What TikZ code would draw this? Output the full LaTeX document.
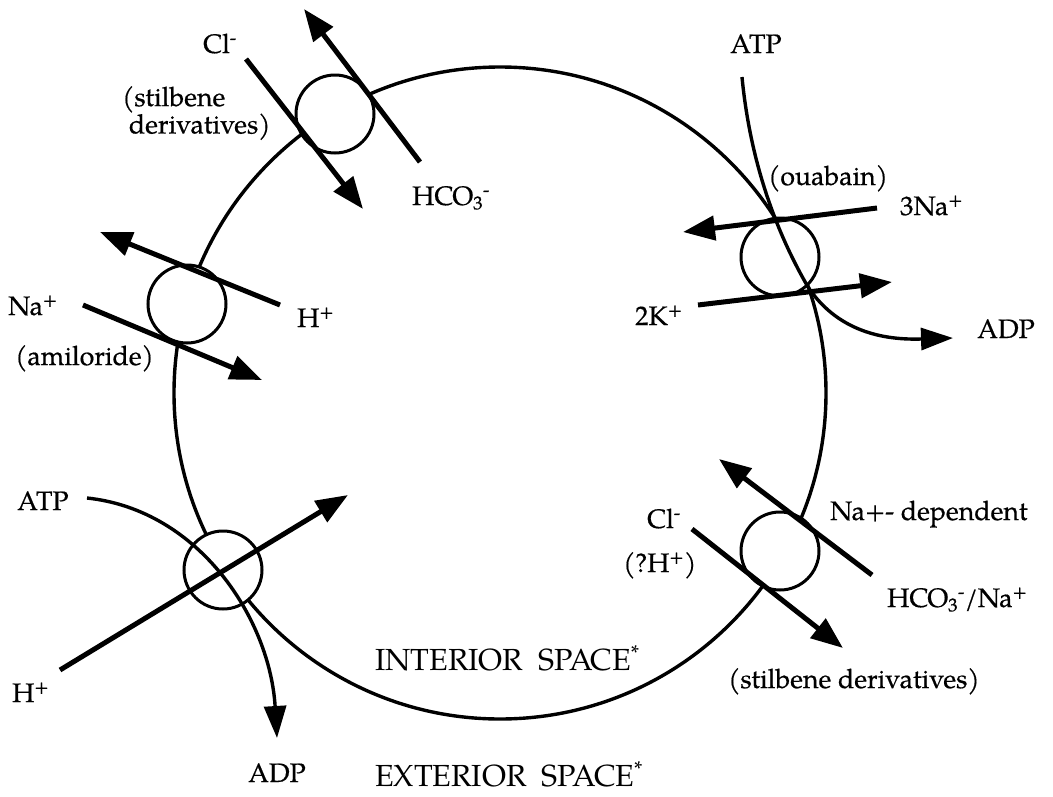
\documentclass[tikz,border=0pt]{standalone}
\usepackage{fontspec}
\setmainfont{texgyrepagella-regular.otf}
\newfontfamily\labfont{texgyrepagella-regular.otf}[FakeBold=0.5]
\usetikzlibrary{arrows.meta}
\begin{document}
\begin{tikzpicture}[x=1pt,y=-1pt,
  membrane/.style={circle,draw,line width=3.4pt,minimum size=652pt,inner sep=0pt},
  pore/.style={circle,draw,line width=3pt,fill=white,minimum size=78pt,inner sep=0pt},
  flux/.style={line width=5pt,-{Triangle[length=32pt,width=24pt]}},
  react/.style={line width=3.4pt,-{Triangle[length=32pt,width=22pt]}},
  lab/.style={inner sep=0pt,anchor=base west,font=\labfont\fontsize{26.7}{23}\selectfont},
  space/.style={inner sep=0pt,anchor=base west,font=\fontsize{30.5}{30}\selectfont}]
\useasboundingbox (0,0) rectangle (1053,796);

% membrane
\node[membrane] (cell) at (500,393) {};

% transporters
\node[pore] (t1) at (335,114) {};
\node[pore] (t2) at (780,257) {};
\node[pore] (t3) at (187,304) {};
\node[pore] (t4) at (223,570) {};
\node[pore] (t5) at (780,551) {};

% end points
\coordinate (a1s) at (420,162); \coordinate (a1e) at (304,9);
\coordinate (b1s) at (246,59);  \coordinate (b1e) at (363,209);
\coordinate (a2s) at (877,208); \coordinate (a2e) at (683,232);
\coordinate (b2s) at (698,305); \coordinate (b2e) at (892,282);
\coordinate (c2s) at (742,77);  \coordinate (c2m) at (808,287); \coordinate (c2e) at (953,338);
\coordinate (a3s) at (280,305); \coordinate (a3e) at (100,232);
\coordinate (b3s) at (83,305);  \coordinate (b3e) at (262,380);
\coordinate (a4s) at (60,670);  \coordinate (a4e) at (348,495);
\coordinate (c4s) at (87,498);  \coordinate (c4e) at (277,738);
\coordinate (a5s) at (872,575); \coordinate (a5e) at (719,459);
\coordinate (b5s) at (692,529); \coordinate (b5e) at (843,648);

% fluxes
\draw[flux] (a1s) -- (a1e);
\draw[flux] (b1s) -- (b1e);
\draw[flux] (a2s) -- (a2e);
\draw[flux] (b2s) -- (b2e);
\draw[flux] (a3s) -- (a3e);
\draw[flux] (b3s) -- (b3e);
\draw[flux] (a4s) -- (a4e);
\draw[flux] (a5s) -- (a5e);
\draw[flux] (b5s) -- (b5e);

% ATP -> ADP
\draw[react] (c2s) .. controls (750,160) and (775,230) .. (c2m)
                  .. controls (840,335) and (890,340) .. (c2e);
\draw[react] (c4s) .. controls (200,510) and (270,620) .. (c4e);

% labels
\node[lab] (l1) at (203,53) {Cl\textsuperscript{-}};
\node[lab,align=left,anchor=north west] (l2) at (122,86) {(stilbene\\\ derivatives)};
\node[lab] (l3) at (412,205) {HCO\textsubscript{3}\textsuperscript{-}};

\node[lab] (l4) at (730,53) {ATP};
\node[lab] (l5) at (768,185) {(ouabain)};
\node[lab] (l6) at (900,215) {3Na\textsuperscript{+}};
\node[lab] (l7) at (635,325) {2K\textsuperscript{+}};
\node[lab] (l8) at (977,338) {ADP};

\node[lab] (l9) at (8,315) {Na\textsuperscript{+}};
\node[lab] (l10) at (15,365) {(amiloride)};
\node[lab] (l11) at (297,327) {H\textsuperscript{+}};

\node[lab] (l12) at (17,510) {ATP};
\node[lab] (l13) at (12,702) {H\textsuperscript{+}};
\node[lab] (l14) at (248,782) {ADP};

\node[lab] (l15) at (647,528) {Cl\textsuperscript{-}};
\node[lab] (l16) at (623,572) {(?H\textsuperscript{+})};
\node[lab] (l17) at (830,520) {Na+- dependent};
\node[lab] (l18) at (887,607) {HCO\textsubscript{3}\textsuperscript{-}/Na\textsuperscript{+}};
\node[lab] (l19) at (728,688) {(stilbene derivatives)};

\node[space] (in) at (375,670) {INTERIOR\ \ SPACE\textsuperscript{*}};
\node[space] (out) at (375,786) {EXTERIOR\ \ SPACE\textsuperscript{*}};
\end{tikzpicture}
\end{document}
